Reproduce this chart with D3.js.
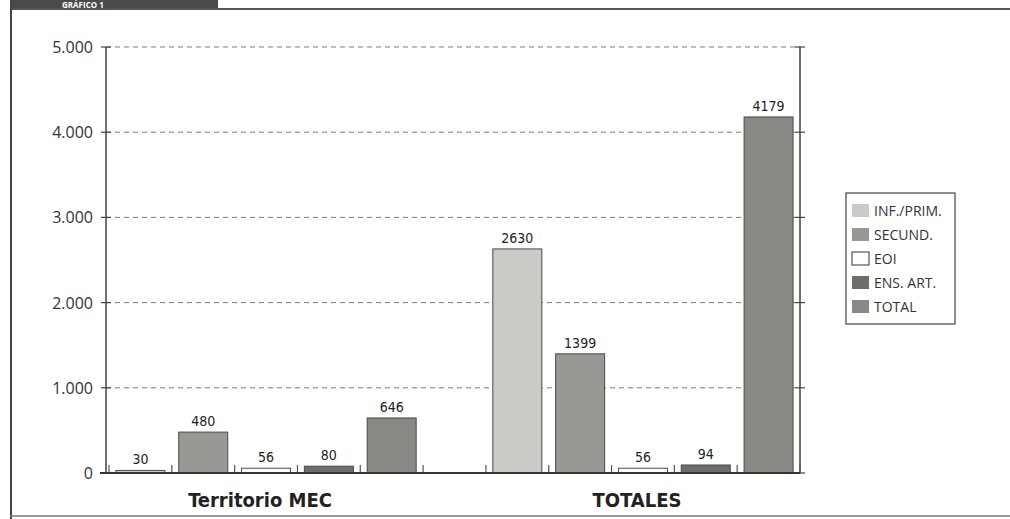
<!DOCTYPE html>
<html>
<head>
<meta charset="utf-8">
<script src="https://cdn.jsdelivr.net/npm/d3@7/dist/d3.min.js"></script>
<style>
  body { margin: 0; background: #fff; }
  svg { display: block; }
</style>
</head>
<body>
<svg id="chart" width="1010" height="519"></svg>
<script>
// data
var groups = ["Territorio MEC", "TOTALES"];
var series = ["INF./PRIM.", "SECUND.", "EOI", "ENS. ART.", "TOTAL"];
var territorio = [30, 480, 56, 80, 646];
var totales = [2630, 1399, 56, 94, 4179];
var yTicks = [0, 1000, 2000, 3000, 4000, 5000];
var yTickLabels = ["0", "1.000", "2.000", "3.000", "4.000", "5.000"];
var colors = ["#c9ccc6", "#979995", "#ffffff", "#6c6e6a", "#868984"];

var values = [territorio, totales];

var svg = d3.select("#chart");

// page frame of the scan
svg.append("rect").attr("x", 10).attr("y", 0).attr("width", 208).attr("height", 10).attr("fill", "#4a4a4a");
svg.append("text").attr("x", 62).attr("y", 8).attr("fill", "#fff")
  .style("font-family", "'Open Sans', sans-serif").style("font-weight", "bold").style("font-size", "8px")
  .text("GRÁFICO 1");
svg.append("line").attr("x1", 10).attr("x2", 1010).attr("y1", 9).attr("y2", 9).style("stroke", "#555").style("stroke-width", 2);
svg.append("line").attr("x1", 11).attr("x2", 11).attr("y1", 0).attr("y2", 519).style("stroke", "#444").style("stroke-width", 2);
svg.append("line").attr("x1", 10).attr("x2", 1010).attr("y1", 516).attr("y2", 516).style("stroke", "#777").style("stroke-width", 1.5);

var left = 109, right = 800, axisX = 106;
var y = d3.scaleLinear().domain([0, 5000]).range([473, 47]);

var x0 = d3.scaleBand().domain(groups).range([left, right]).paddingInner(1/6).paddingOuter(0);
var x1 = d3.scaleBand().domain(series).range([0, x0.bandwidth()]).paddingInner(0.22).paddingOuter(0.11);
var slot = x0.bandwidth() / series.length;

// dashed grid
svg.selectAll(".grid").data(yTicks.slice(1)).enter().append("line")
  .attr("x1", axisX).attr("x2", right)
  .attr("y1", function(d){ return y(d); }).attr("y2", function(d){ return y(d); })
  .style("stroke", "#7a7a7a").style("stroke-width", 1).style("stroke-dasharray", "5,4");

// left axis
svg.append("line").attr("x1", axisX).attr("x2", axisX).attr("y1", y(5000)).attr("y2", y(0)).style("stroke", "#444").style("stroke-width", 1.5);
svg.selectAll(".ltick").data(yTicks).enter().append("line")
  .attr("x1", axisX - 5).attr("x2", axisX + 5)
  .attr("y1", function(d){ return y(d); }).attr("y2", function(d){ return y(d); })
  .style("stroke", "#444").style("stroke-width", 1.2);
svg.selectAll(".ylab").data(yTicks).enter().append("text")
  .attr("x", 93).attr("y", function(d){ return y(d) + 6; })
  .attr("text-anchor", "end")
  .style("font-family", "'Open Sans', sans-serif").style("font-size", "16px").style("fill", "#333")
  .text(function(d, i){ return yTickLabels[i]; });

// right axis
svg.append("line").attr("x1", right).attr("x2", right).attr("y1", y(5000)).attr("y2", y(0)).style("stroke", "#444").style("stroke-width", 1.5);
svg.selectAll(".rtick").data(yTicks).enter().append("line")
  .attr("x1", right - 5).attr("x2", right + 5)
  .attr("y1", function(d){ return y(d); }).attr("y2", function(d){ return y(d); })
  .style("stroke", "#444").style("stroke-width", 1.2);

// bars
for (var g = 0; g < groups.length; g++) {
  var gx = x0(groups[g]);
  var row = values[g];
  for (var i = 0; i < series.length; i++) {
    var v = row[i];
    svg.append("rect")
      .attr("x", gx + x1(series[i]))
      .attr("y", y(v))
      .attr("width", x1.bandwidth())
      .attr("height", y(0) - y(v))
      .attr("fill", colors[i])
      .style("stroke", "#4a4a4a").style("stroke-width", 1);
    svg.append("text")
      .attr("x", gx + x1(series[i]) + x1.bandwidth() / 2)
      .attr("y", y(v) - 6)
      .attr("text-anchor", "middle")
      .style("font-family", "'Liberation Sans Narrow', 'DejaVu Sans Condensed', sans-serif")
      .style("font-size", "14px").style("fill", "#222")
      .text(v);
  }
  // small slot ticks on the baseline
  for (var k = 0; k <= series.length; k++) {
    svg.append("line")
      .attr("x1", gx + k * slot).attr("x2", gx + k * slot)
      .attr("y1", y(0) - 8).attr("y2", y(0))
      .style("stroke", "#555").style("stroke-width", 1.2);
  }
  svg.append("text")
    .attr("x", gx + x0.bandwidth() / 2 - 6)
    .attr("y", 507)
    .attr("text-anchor", "middle")
    .style("font-family", "'Liberation Sans Narrow', 'DejaVu Sans Condensed', sans-serif")
    .style("font-weight", "bold").style("font-size", "20px").style("fill", "#222")
    .text(groups[g]);
}

// baseline
svg.append("line").attr("x1", 100).attr("x2", right).attr("y1", y(0)).attr("y2", y(0)).style("stroke", "#333").style("stroke-width", 1.8);

// legend
var lg = svg.append("g").attr("transform", "translate(846,193)");
lg.append("rect").attr("width", 109).attr("height", 131).attr("fill", "#fff").style("stroke", "#444").style("stroke-width", 1.2);
var items = lg.selectAll(".item").data(series).enter().append("g")
  .attr("transform", function(d, i){ return "translate(6," + (11 + i * 24) + ")"; });
items.append("rect").attr("width", 17).attr("height", 13)
  .attr("fill", function(d, i){ return colors[i]; })
  .style("stroke", function(d, i){ return i == 2 ? "#333" : "none"; });
items.append("text").attr("x", 22).attr("y", 12)
  .style("font-family", "'Open Sans', sans-serif").style("font-size", "14px").style("fill", "#333")
  .text(function(d){ return d; });
</script>
</body>
</html>
